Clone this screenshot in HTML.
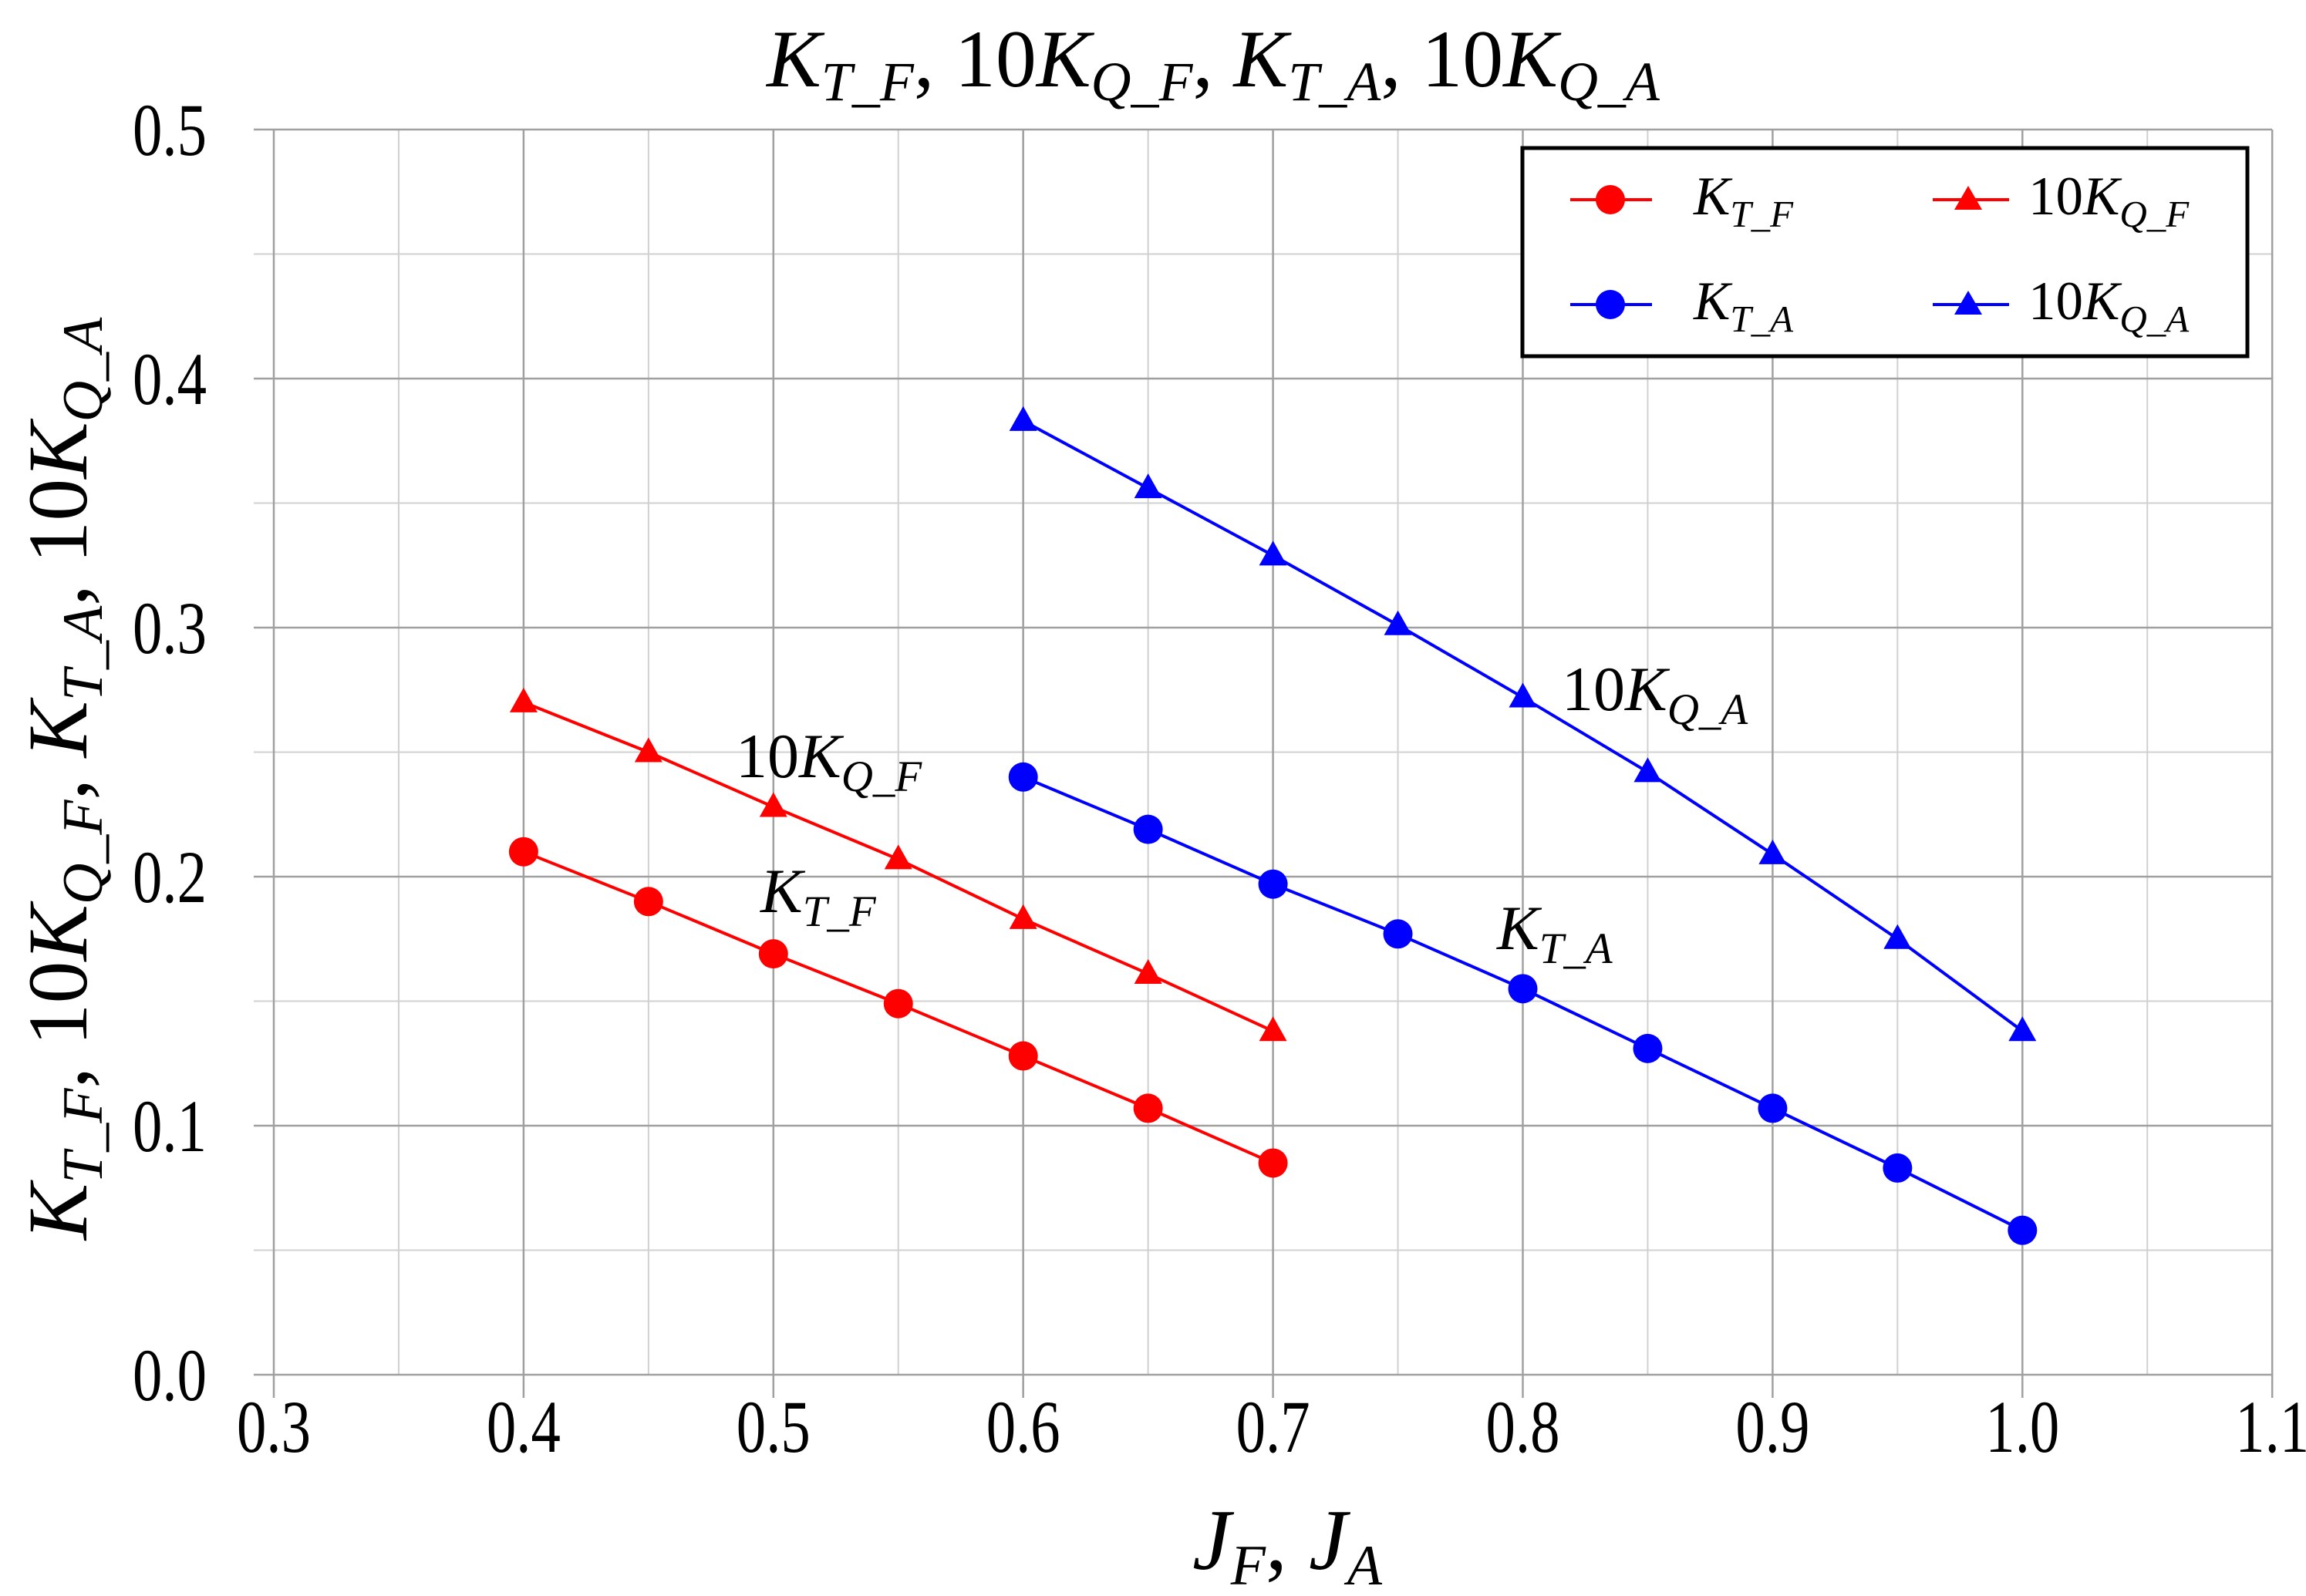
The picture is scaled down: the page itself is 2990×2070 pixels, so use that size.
<!DOCTYPE html>
<html><head><meta charset="utf-8"><style>
html,body{margin:0;padding:0;background:#fff;width:2990px;height:2070px;overflow:hidden}
svg{display:block}
text{font-family:"Liberation Serif",serif}
</style></head><body>
<svg id="chart" width="2990" height="2070" viewBox="0 0 2990 2070" xmlns="http://www.w3.org/2000/svg">
<text x="1573" y="112" text-anchor="middle" font-size="106" font-style="italic">K<tspan font-size="72" dy="18">T_F</tspan><tspan dy="-18" font-style="normal">, 10</tspan>K<tspan font-size="72" dy="18">Q_F</tspan><tspan dy="-18" font-style="normal">, </tspan>K<tspan font-size="72" dy="18">T_A</tspan><tspan dy="-18" font-style="normal">, 10</tspan>K<tspan font-size="72" dy="18">Q_A</tspan></text>
<g id="grid"></g>
<g id="axes"></g>
<g id="series"></g>
<text x="1669" y="2035" text-anchor="middle" font-size="112" font-style="italic">J<tspan font-size="74" dy="20">F</tspan><tspan dy="-20" font-style="normal">, </tspan>J<tspan font-size="74" dy="20">A</tspan></text>
<text transform="translate(112,1010) rotate(-90)" text-anchor="middle" font-size="110" font-style="italic">K<tspan font-size="74" dy="20">T_F</tspan><tspan dy="-20" font-style="normal">, 10</tspan>K<tspan font-size="74" dy="20">Q_F</tspan><tspan dy="-20" font-style="normal">, </tspan>K<tspan font-size="74" dy="20">T_A</tspan><tspan dy="-20" font-style="normal">, 10</tspan>K<tspan font-size="74" dy="20">Q_A</tspan></text>
<text x="954" y="1008" font-size="82" font-style="italic"><tspan font-style="normal">10</tspan>K<tspan font-size="57" dy="18">Q_F</tspan></text>
<text x="986" y="1183" font-size="82" font-style="italic">K<tspan font-size="57" dy="18">T_F</tspan></text>
<text x="2025" y="921" font-size="82" font-style="italic"><tspan font-style="normal">10</tspan>K<tspan font-size="57" dy="18">Q_A</tspan></text>
<text x="1941" y="1231" font-size="82" font-style="italic">K<tspan font-size="57" dy="18">T_A</tspan></text>
<g>
<rect x="1974" y="192" width="940" height="270" fill="#fff" stroke="#000" stroke-width="5"/>
<line x1="2036" y1="259" x2="2142" y2="259" stroke="#ff0000" stroke-width="4"/><circle cx="2088" cy="259" r="19" fill="#ff0000"/>
<text x="2196" y="278" font-size="71" font-style="italic">K<tspan font-size="49" dy="16">T_F</tspan></text>
<line x1="2506" y1="259" x2="2605" y2="259" stroke="#ff0000" stroke-width="4"/><polygon points="2552,241 2570,272 2534,272" fill="#ff0000"/>
<text x="2630" y="278" font-size="71" font-style="italic"><tspan font-style="normal">10</tspan>K<tspan font-size="49" dy="16">Q_F</tspan></text>
<line x1="2036" y1="395" x2="2142" y2="395" stroke="#0000ff" stroke-width="4"/><circle cx="2088" cy="395" r="19" fill="#0000ff"/>
<text x="2196" y="414" font-size="71" font-style="italic">K<tspan font-size="49" dy="16">T_A</tspan></text>
<line x1="2506" y1="395" x2="2605" y2="395" stroke="#0000ff" stroke-width="4"/><polygon points="2552,377 2570,408 2534,408" fill="#0000ff"/>
<text x="2630" y="414" font-size="71" font-style="italic"><tspan font-style="normal">10</tspan>K<tspan font-size="49" dy="16">Q_A</tspan></text>
</g>
</svg>
<script>
const xTicks=[0.3,0.4,0.5,0.6,0.7,0.8,0.9,1.0,1.1];
const yTicks=[0.0,0.1,0.2,0.3,0.4,0.5];
const xF=[0.4,0.45,0.5,0.55,0.6,0.65,0.7];
const ktF=[0.21,0.19,0.169,0.149,0.128,0.107,0.085];
const kqF=[0.27,0.25,0.228,0.207,0.183,0.161,0.138];
const xA=[0.6,0.65,0.7,0.75,0.8,0.85,0.9,0.95,1.0];
const ktA=[0.24,0.219,0.197,0.177,0.155,0.131,0.107,0.083,0.058];
const kqA=[0.383,0.356,0.329,0.301,0.272,0.242,0.209,0.175,0.138];
const NS='http://www.w3.org/2000/svg';
const X=v=>355+(v-0.3)*3239;
const Y=v=>1783-v*3230;
function mk(tag,at,parent){const e=document.createElementNS(NS,tag);for(const k in at)e.setAttribute(k,at[k]);parent.appendChild(e);return e;}
const grid=document.getElementById('grid'),axes=document.getElementById('axes'),ser=document.getElementById('series');
for(let i=0;i<xTicks.length-1;i++){const v=(xTicks[i]+xTicks[i+1])/2;
const l=mk('line',{x1:X(v),x2:X(v),y1:Y(0.5),y2:Y(0),stroke:'#d0d0d0','stroke-width':2},grid);

}
for(let i=0;i<yTicks.length-1;i++){const v=(yTicks[i]+yTicks[i+1])/2;
const l=mk('line',{x1:329,x2:2946,y1:Y(v),y2:Y(v),stroke:'#d0d0d0','stroke-width':2},grid);

}
xTicks.forEach(v=>{
const l=mk('line',{x1:X(v),x2:X(v),y1:Y(0.5),y2:Y(0)+30,stroke:'#a0a0a0','stroke-width':2.5},grid);


const t=mk('text',{transform:`translate(${X(v)},1883) scale(0.8,1)`,'text-anchor':'middle','font-size':96},axes);t.textContent=v.toFixed(1);

});
yTicks.forEach(v=>{
const l=mk('line',{x1:329,x2:2946,y1:Y(v),y2:Y(v),stroke:'#a0a0a0','stroke-width':2.5},grid);


const t=mk('text',{transform:`translate(268,${Y(v)+33}) scale(0.8,1)`,'text-anchor':'end','font-size':96},axes);t.textContent=v.toFixed(1);

});
function series(xs,ys,color,shape,name){
const g=mk('g',{},ser);


const p=mk('polyline',{points:xs.map((x,i)=>X(x)+','+Y(ys[i])).join(' '),fill:'none',stroke:color,'stroke-width':4},g);


xs.forEach((x,i)=>{const cx=X(x),cy=Y(ys[i]);let m;
if(shape==='c')m=mk('circle',{cx:cx,cy:cy,r:19,fill:color},g);
else m=mk('polygon',{points:`${cx},${cy-19} ${cx+18},${cy+13} ${cx-18},${cy+13}`,fill:color},g);

});}
series(xF,ktF,'#ff0000','c','kt-f-series');
series(xF,kqF,'#ff0000','t','10kq-f-series');
series(xA,ktA,'#0000ff','c','kt-a-series');
series(xA,kqA,'#0000ff','t','10kq-a-series');
</script>
</body></html>
